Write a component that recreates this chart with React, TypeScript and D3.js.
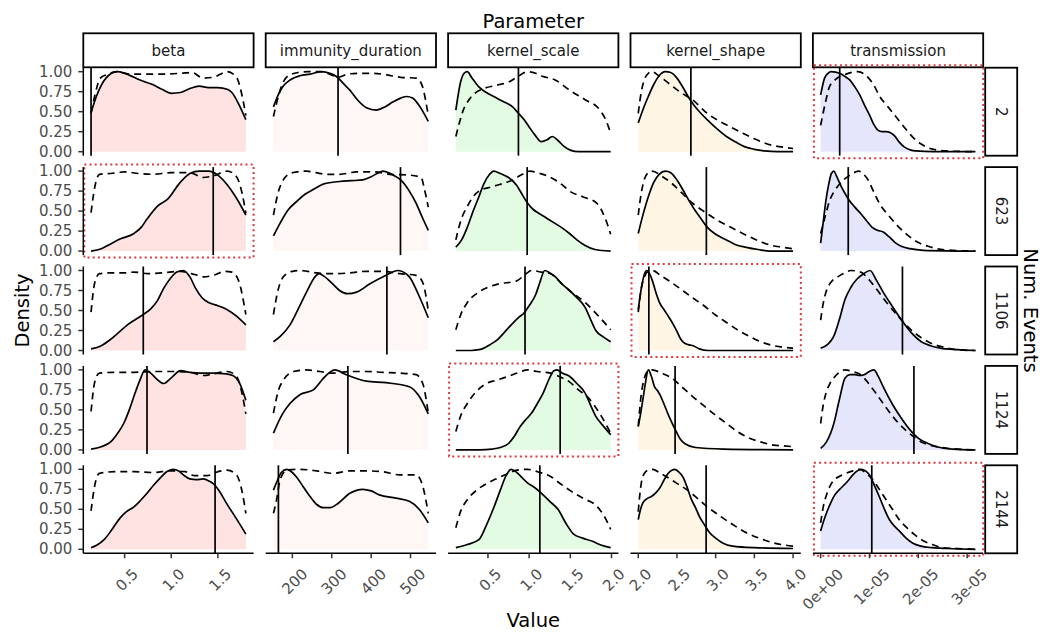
import React, { useRef, useEffect } from "react";
import * as d3 from "d3";

type Pt = [number, number];

const params = ["beta", "immunity_duration", "kernel_scale", "kernel_shape", "transmission"];
const events = ["2", "623", "1106", "1124", "2144"];

// beta: posterior (solid) and prior (dashed), each scaled to a max of 1
const beta_2_post: Pt[] = [[0.14,0.49],[0.2,0.70],[0.3,0.92],[0.42,1.0],[0.5,0.98],[0.6,0.93],[0.7,0.88],[0.8,0.84],[0.9,0.78],[1.0,0.73],[1.1,0.74],[1.2,0.79],[1.3,0.82],[1.4,0.80],[1.5,0.80],[1.6,0.78],[1.65,0.74],[1.73,0.58],[1.8,0.40]];
const beta_2_prior: Pt[] = [[0.14,0.48],[0.18,0.70],[0.24,0.92],[0.3,0.96],[0.42,1.0],[0.55,0.97],[0.7,0.97],[0.9,0.97],[1.1,0.98],[1.22,0.99],[1.34,0.92],[1.45,0.93],[1.6,1.0],[1.7,0.93],[1.75,0.75],[1.8,0.45]];
const beta_623_post: Pt[] = [[0.14,0.0],[0.25,0.03],[0.35,0.09],[0.45,0.15],[0.6,0.22],[0.68,0.30],[0.74,0.40],[0.85,0.56],[0.97,0.66],[1.09,0.85],[1.2,0.97],[1.3,1.0],[1.4,1.0],[1.5,0.95],[1.6,0.83],[1.7,0.66],[1.8,0.45]];
const beta_623_prior: Pt[] = [[0.14,0.48],[0.18,0.80],[0.23,0.96],[0.35,0.97],[0.5,0.99],[0.65,0.97],[0.8,0.96],[1.0,0.98],[1.2,0.98],[1.34,0.92],[1.45,0.94],[1.6,1.0],[1.7,0.93],[1.76,0.72],[1.8,0.47]];
const beta_1106_post: Pt[] = [[0.14,0.02],[0.25,0.06],[0.35,0.14],[0.45,0.24],[0.53,0.32],[0.62,0.39],[0.7,0.45],[0.78,0.52],[0.85,0.62],[0.92,0.78],[0.99,0.90],[1.06,0.98],[1.13,1.0],[1.2,0.92],[1.26,0.78],[1.33,0.66],[1.4,0.60],[1.5,0.56],[1.6,0.51],[1.7,0.43],[1.8,0.32]];
const beta_1106_prior: Pt[] = [[0.14,0.48],[0.18,0.85],[0.23,0.96],[0.35,0.97],[0.5,0.97],[0.6,0.98],[0.75,0.96],[0.9,0.97],[1.1,0.99],[1.25,0.95],[1.35,0.92],[1.45,0.94],[1.58,0.99],[1.65,0.98],[1.72,0.88],[1.8,0.45]];
const beta_1124_post: Pt[] = [[0.14,0.01],[0.25,0.04],[0.35,0.10],[0.42,0.2],[0.49,0.33],[0.55,0.5],[0.6,0.67],[0.66,0.86],[0.72,1.0],[0.78,0.96],[0.85,0.88],[0.92,0.83],[1.0,0.90],[1.1,0.99],[1.2,0.97],[1.31,0.96],[1.45,0.96],[1.59,0.95],[1.66,0.93],[1.73,0.84],[1.8,0.62]];
const beta_1124_prior: Pt[] = [[0.14,0.48],[0.18,0.85],[0.23,0.96],[0.4,0.97],[0.6,0.97],[0.8,0.98],[1.0,0.98],[1.2,0.97],[1.35,0.93],[1.45,0.95],[1.6,0.98],[1.7,0.92],[1.76,0.7],[1.8,0.45]];
const beta_2144_post: Pt[] = [[0.14,0.02],[0.2,0.05],[0.28,0.12],[0.36,0.24],[0.45,0.39],[0.52,0.47],[0.6,0.53],[0.67,0.61],[0.74,0.70],[0.81,0.80],[0.88,0.89],[0.95,0.97],[1.02,1.0],[1.08,0.98],[1.13,0.93],[1.2,0.88],[1.27,0.87],[1.34,0.88],[1.41,0.85],[1.45,0.82],[1.52,0.72],[1.59,0.58],[1.7,0.38],[1.8,0.19]];
const beta_2144_prior: Pt[] = [[0.14,0.48],[0.18,0.80],[0.23,0.95],[0.4,0.97],[0.6,0.97],[0.8,0.96],[1.0,0.98],[1.15,0.97],[1.25,0.92],[1.38,0.92],[1.5,0.97],[1.6,0.99],[1.7,0.93],[1.76,0.72],[1.8,0.45]];

// immunity_duration
const imm_2_post: Pt[] = [[152,0.56],[165,0.72],[177,0.82],[195,0.90],[219,0.95],[245,0.97],[275,1.0],[295,0.98],[312,0.94],[330,0.85],[346,0.77],[365,0.65],[388,0.55],[413,0.52],[435,0.56],[455,0.62],[475,0.67],[490,0.69],[505,0.67],[520,0.59],[545,0.38]];
const imm_2_prior: Pt[] = [[152,0.44],[165,0.70],[175,0.85],[190,0.95],[215,0.99],[240,1.0],[270,1.0],[295,0.97],[315,0.93],[340,0.97],[370,0.98],[405,0.98],[440,0.96],[475,0.93],[515,0.92],[530,0.82],[538,0.65],[545,0.45]];
const imm_623_post: Pt[] = [[152,0.19],[170,0.36],[190,0.52],[211,0.62],[232,0.71],[253,0.77],[280,0.84],[320,0.87],[350,0.88],[379,0.89],[400,0.93],[415,0.97],[430,1.0],[445,0.98],[460,0.94],[475,0.89],[497,0.75],[514,0.60],[530,0.42],[545,0.26]];
const imm_623_prior: Pt[] = [[152,0.45],[165,0.75],[177,0.89],[194,0.97],[211,0.99],[236,1.0],[260,0.98],[287,0.96],[320,0.96],[363,0.99],[410,0.99],[447,0.96],[497,0.95],[527,0.92],[535,0.78],[545,0.55]];
const imm_1106_post: Pt[] = [[152,0.11],[170,0.18],[194,0.32],[215,0.52],[236,0.73],[259,0.93],[268,0.96],[280,0.93],[303,0.83],[320,0.75],[340,0.71],[363,0.73],[396,0.83],[438,0.94],[468,1.0],[497,0.92],[520,0.70],[545,0.41]];
const imm_1106_prior: Pt[] = [[152,0.45],[165,0.78],[177,0.92],[200,0.99],[219,1.0],[262,0.97],[303,0.96],[346,0.97],[388,0.99],[430,0.99],[472,0.96],[514,0.94],[531,0.85],[545,0.50]];
const imm_1124_post: Pt[] = [[152,0.21],[175,0.45],[194,0.58],[219,0.69],[253,0.75],[278,0.89],[295,0.97],[308,1.0],[337,0.94],[388,0.86],[438,0.84],[497,0.79],[522,0.67],[545,0.45]];
const imm_1124_prior: Pt[] = [[152,0.46],[165,0.75],[177,0.87],[203,0.98],[236,1.0],[270,0.98],[303,0.96],[346,0.98],[388,0.98],[430,0.97],[472,0.96],[514,0.94],[531,0.83],[545,0.46]];
const imm_2144_post: Pt[] = [[152,0.74],[162,0.86],[172,0.96],[186,1.0],[200,0.96],[211,0.90],[228,0.78],[245,0.66],[262,0.56],[278,0.52],[295,0.52],[315,0.57],[346,0.70],[379,0.75],[400,0.73],[421,0.68],[463,0.64],[497,0.60],[522,0.50],[545,0.33]];
const imm_2144_prior: Pt[] = [[152,0.45],[160,0.62],[169,0.87],[186,0.99],[219,1.0],[262,0.98],[303,0.95],[346,0.98],[388,0.98],[430,0.97],[472,0.93],[514,0.93],[531,0.79],[545,0.45]];

// kernel_scale
const ks_2_post: Pt[] = [[0.11,0.52],[0.17,0.88],[0.21,0.98],[0.25,1.0],[0.3,0.93],[0.39,0.81],[0.48,0.74],[0.57,0.69],[0.68,0.63],[0.8,0.56],[0.87,0.48],[0.94,0.40],[1.0,0.31],[1.07,0.21],[1.15,0.125],[1.22,0.15],[1.28,0.19],[1.35,0.14],[1.42,0.07],[1.5,0.02],[1.6,0.0],[1.99,0.0]];
const ks_2_prior: Pt[] = [[0.11,0.19],[0.15,0.35],[0.2,0.52],[0.27,0.65],[0.34,0.73],[0.45,0.79],[0.6,0.83],[0.75,0.87],[0.85,0.93],[0.98,1.0],[1.08,0.98],[1.17,0.94],[1.31,0.90],[1.49,0.77],[1.68,0.65],[1.86,0.52],[1.93,0.40],[1.99,0.23]];
const ks_623_post: Pt[] = [[0.11,0.05],[0.18,0.14],[0.25,0.30],[0.32,0.50],[0.39,0.68],[0.45,0.84],[0.52,0.96],[0.57,1.0],[0.65,0.97],[0.75,0.92],[0.85,0.82],[0.92,0.70],[0.98,0.60],[1.05,0.52],[1.12,0.47],[1.2,0.42],[1.31,0.35],[1.4,0.29],[1.49,0.22],[1.58,0.14],[1.68,0.07],[1.8,0.02],[1.99,0.0]];
const ks_623_prior: Pt[] = [[0.11,0.14],[0.17,0.38],[0.25,0.56],[0.32,0.68],[0.39,0.75],[0.57,0.81],[0.8,0.89],[0.92,0.96],[1.01,1.0],[1.1,0.98],[1.26,0.92],[1.4,0.83],[1.49,0.75],[1.65,0.68],[1.82,0.60],[1.92,0.42],[1.99,0.21]];
const ks_1106_post: Pt[] = [[0.11,0.0],[0.3,0.0],[0.39,0.01],[0.45,0.03],[0.52,0.07],[0.62,0.14],[0.71,0.24],[0.8,0.34],[0.88,0.42],[0.94,0.47],[1.0,0.56],[1.08,0.70],[1.13,0.85],[1.19,1.0],[1.25,0.97],[1.31,0.93],[1.4,0.83],[1.49,0.75],[1.58,0.66],[1.68,0.54],[1.75,0.38],[1.81,0.25],[1.9,0.17],[1.99,0.11]];
const ks_1106_prior: Pt[] = [[0.11,0.26],[0.17,0.45],[0.25,0.60],[0.39,0.73],[0.5,0.79],[0.62,0.83],[0.85,0.87],[0.95,0.95],[1.03,1.0],[1.15,0.98],[1.26,0.96],[1.38,0.85],[1.49,0.75],[1.68,0.60],[1.86,0.41],[1.99,0.26]];
const ks_1124_post: Pt[] = [[0.11,0.0],[0.4,0.0],[0.55,0.01],[0.65,0.03],[0.75,0.08],[0.82,0.17],[0.89,0.29],[0.96,0.38],[1.03,0.46],[1.1,0.58],[1.17,0.71],[1.24,0.88],[1.3,0.99],[1.34,1.0],[1.4,0.96],[1.49,0.92],[1.58,0.83],[1.68,0.71],[1.75,0.55],[1.81,0.42],[1.9,0.30],[1.99,0.19]];
const ks_1124_prior: Pt[] = [[0.11,0.23],[0.17,0.43],[0.25,0.58],[0.35,0.72],[0.48,0.83],[0.6,0.87],[0.75,0.92],[0.88,0.97],[0.98,1.0],[1.1,0.98],[1.26,0.96],[1.38,0.91],[1.49,0.85],[1.6,0.75],[1.72,0.65],[1.86,0.45],[1.99,0.21]];
const ks_2144_post: Pt[] = [[0.11,0.02],[0.25,0.06],[0.39,0.12],[0.48,0.30],[0.57,0.52],[0.65,0.74],[0.72,0.92],[0.78,1.0],[0.85,0.96],[0.92,0.89],[0.98,0.83],[1.07,0.77],[1.15,0.70],[1.25,0.60],[1.35,0.50],[1.45,0.32],[1.54,0.19],[1.65,0.14],[1.77,0.10],[1.88,0.05],[1.99,0.02]];
const ks_2144_prior: Pt[] = [[0.11,0.27],[0.17,0.48],[0.25,0.62],[0.39,0.76],[0.5,0.83],[0.62,0.89],[0.75,0.95],[0.85,0.99],[0.98,1.0],[1.1,0.97],[1.26,0.91],[1.38,0.82],[1.49,0.74],[1.65,0.64],[1.82,0.54],[1.92,0.40],[1.99,0.25]];

// kernel_shape
const kh_2_post: Pt[] = [[2.0,0.36],[2.07,0.55],[2.13,0.69],[2.2,0.84],[2.27,0.95],[2.35,1.0],[2.42,0.99],[2.5,0.92],[2.58,0.80],[2.65,0.68],[2.72,0.58],[2.8,0.49],[2.89,0.40],[3.0,0.30],[3.14,0.19],[3.26,0.12],[3.38,0.06],[3.5,0.03],[3.63,0.01],[3.8,0.0],[4.0,0.0]];
const kh_2_prior: Pt[] = [[2.0,0.48],[2.04,0.75],[2.08,0.90],[2.13,0.98],[2.18,1.0],[2.25,0.96],[2.4,0.85],[2.55,0.74],[2.7,0.65],[2.89,0.48],[3.05,0.38],[3.19,0.31],[3.35,0.23],[3.48,0.17],[3.6,0.12],[3.73,0.08],[3.85,0.06],[4.0,0.04]];
const kh_623_post: Pt[] = [[2.0,0.22],[2.06,0.45],[2.13,0.68],[2.2,0.86],[2.27,0.96],[2.35,1.0],[2.42,0.98],[2.5,0.89],[2.58,0.76],[2.65,0.64],[2.72,0.53],[2.8,0.42],[2.89,0.30],[3.0,0.21],[3.14,0.14],[3.26,0.08],[3.38,0.05],[3.55,0.02],[3.7,0.0],[4.0,0.0]];
const kh_623_prior: Pt[] = [[2.0,0.45],[2.04,0.73],[2.08,0.90],[2.13,0.98],[2.18,1.0],[2.3,0.94],[2.43,0.85],[2.56,0.73],[2.7,0.60],[2.89,0.47],[3.05,0.37],[3.19,0.30],[3.35,0.22],[3.48,0.16],[3.6,0.11],[3.73,0.07],[3.85,0.05],[4.0,0.03]];
const kh_1106_post: Pt[] = [[2.0,0.51],[2.03,0.72],[2.06,0.88],[2.09,0.98],[2.11,1.0],[2.14,0.97],[2.18,0.88],[2.23,0.72],[2.28,0.59],[2.34,0.50],[2.4,0.41],[2.45,0.33],[2.5,0.24],[2.55,0.14],[2.6,0.09],[2.66,0.07],[2.71,0.06],[2.79,0.02],[2.9,0.0],[4.0,0.0]];
const kh_1106_prior: Pt[] = [[2.0,0.48],[2.04,0.78],[2.08,0.92],[2.13,0.99],[2.18,1.0],[2.3,0.93],[2.43,0.85],[2.56,0.76],[2.7,0.66],[2.85,0.56],[2.99,0.45],[3.14,0.35],[3.28,0.26],[3.43,0.18],[3.58,0.11],[3.75,0.06],[3.88,0.04],[4.0,0.03]];
const kh_1124_post: Pt[] = [[2.0,0.29],[2.03,0.45],[2.06,0.63],[2.09,0.82],[2.13,1.0],[2.17,0.92],[2.21,0.79],[2.25,0.74],[2.28,0.69],[2.33,0.58],[2.38,0.46],[2.43,0.35],[2.48,0.25],[2.54,0.14],[2.6,0.08],[2.74,0.03],[3.1,0.01],[4.0,0.0]];
const kh_1124_prior: Pt[] = [[2.0,0.30],[2.04,0.70],[2.08,0.90],[2.13,0.99],[2.18,1.0],[2.3,0.96],[2.43,0.90],[2.56,0.79],[2.7,0.67],[2.85,0.55],[2.99,0.44],[3.14,0.33],[3.28,0.23],[3.43,0.15],[3.58,0.10],[3.75,0.06],[3.88,0.05],[4.0,0.04]];
const kh_2144_post: Pt[] = [[2.0,0.37],[2.03,0.50],[2.06,0.58],[2.11,0.63],[2.17,0.66],[2.22,0.70],[2.28,0.77],[2.33,0.86],[2.38,0.94],[2.44,0.99],[2.47,1.0],[2.52,0.97],[2.58,0.90],[2.63,0.78],[2.68,0.64],[2.74,0.52],[2.79,0.41],[2.86,0.30],[2.92,0.21],[3.0,0.14],[3.09,0.08],[3.22,0.04],[3.5,0.02],[4.0,0.01]];
const kh_2144_prior: Pt[] = [[2.0,0.47],[2.02,0.68],[2.04,0.83],[2.08,0.95],[2.13,0.99],[2.19,1.0],[2.27,0.96],[2.36,0.91],[2.49,0.83],[2.62,0.75],[2.75,0.65],[2.88,0.54],[3.05,0.42],[3.22,0.31],[3.39,0.21],[3.56,0.14],[3.75,0.08],[4.0,0.04]];

// transmission
const tr_2_post: Pt[] = [[0,0.71],[0.08e-5,0.92],[0.15e-5,0.98],[0.22e-5,1.0],[0.39e-5,0.98],[0.5e-5,0.94],[0.59e-5,0.90],[0.7e-5,0.81],[0.8e-5,0.71],[0.9e-5,0.58],[1.0e-5,0.46],[1.08e-5,0.35],[1.17e-5,0.27],[1.26e-5,0.25],[1.34e-5,0.25],[1.42e-5,0.24],[1.51e-5,0.20],[1.61e-5,0.12],[1.71e-5,0.06],[1.85e-5,0.02],[1.95e-5,0.01],[2.3e-5,0.0],[3.17e-5,0.0]];
const tr_2_prior: Pt[] = [[0,0.33],[0.1e-5,0.62],[0.18e-5,0.81],[0.3e-5,0.90],[0.52e-5,0.97],[0.76e-5,1.0],[0.97e-5,0.93],[1.1e-5,0.82],[1.2e-5,0.70],[1.38e-5,0.56],[1.55e-5,0.43],[1.72e-5,0.30],[1.89e-5,0.18],[2.05e-5,0.10],[2.2e-5,0.05],[2.4e-5,0.02],[2.56e-5,0.01],[3.17e-5,0.0]];
const tr_623_post: Pt[] = [[0,0.10],[0.05e-5,0.35],[0.11e-5,0.64],[0.17e-5,0.85],[0.22e-5,0.97],[0.27e-5,1.0],[0.33e-5,0.93],[0.42e-5,0.81],[0.5e-5,0.72],[0.58e-5,0.64],[0.7e-5,0.55],[0.82e-5,0.47],[0.94e-5,0.38],[1.05e-5,0.30],[1.16e-5,0.26],[1.28e-5,0.24],[1.4e-5,0.18],[1.52e-5,0.11],[1.65e-5,0.06],[1.83e-5,0.03],[2.1e-5,0.01],[3.17e-5,0.0]];
const tr_623_prior: Pt[] = [[0,0.22],[0.1e-5,0.45],[0.19e-5,0.64],[0.27e-5,0.74],[0.35e-5,0.81],[0.47e-5,0.89],[0.58e-5,0.94],[0.68e-5,0.98],[0.78e-5,1.0],[0.88e-5,0.96],[0.97e-5,0.89],[1.08e-5,0.75],[1.2e-5,0.60],[1.4e-5,0.44],[1.6e-5,0.30],[1.8e-5,0.19],[1.99e-5,0.11],[2.2e-5,0.06],[2.38e-5,0.03],[2.7e-5,0.01],[3.17e-5,0.0]];
const tr_1106_post: Pt[] = [[0,0.03],[0.15e-5,0.08],[0.27e-5,0.18],[0.38e-5,0.38],[0.5e-5,0.64],[0.62e-5,0.79],[0.74e-5,0.89],[0.88e-5,0.96],[1.01e-5,1.0],[1.14e-5,0.88],[1.28e-5,0.73],[1.47e-5,0.55],[1.67e-5,0.37],[1.86e-5,0.22],[2.06e-5,0.11],[2.25e-5,0.06],[2.45e-5,0.03],[2.8e-5,0.01],[3.17e-5,0.0]];
const tr_1106_prior: Pt[] = [[0,0.38],[0.05e-5,0.58],[0.11e-5,0.73],[0.22e-5,0.86],[0.35e-5,0.92],[0.5e-5,0.97],[0.62e-5,1.0],[0.82e-5,0.98],[0.97e-5,0.90],[1.13e-5,0.78],[1.35e-5,0.60],[1.6e-5,0.42],[1.83e-5,0.27],[2.06e-5,0.16],[2.3e-5,0.08],[2.53e-5,0.04],[2.8e-5,0.01],[3.17e-5,0.0]];
const tr_1124_post: Pt[] = [[0,0.02],[0.12e-5,0.10],[0.27e-5,0.33],[0.38e-5,0.62],[0.5e-5,0.90],[0.6e-5,0.94],[0.7e-5,0.94],[0.8e-5,0.93],[0.89e-5,0.94],[1.0e-5,0.98],[1.09e-5,1.0],[1.18e-5,0.92],[1.28e-5,0.79],[1.47e-5,0.57],[1.67e-5,0.38],[1.83e-5,0.25],[1.99e-5,0.15],[2.2e-5,0.08],[2.38e-5,0.04],[2.7e-5,0.01],[3.17e-5,0.0]];
const tr_1124_prior: Pt[] = [[0,0.33],[0.05e-5,0.55],[0.11e-5,0.71],[0.19e-5,0.83],[0.27e-5,0.90],[0.38e-5,0.97],[0.5e-5,1.0],[0.65e-5,0.98],[0.82e-5,0.94],[0.97e-5,0.84],[1.13e-5,0.71],[1.35e-5,0.52],[1.6e-5,0.33],[1.83e-5,0.20],[2.06e-5,0.10],[2.3e-5,0.05],[2.6e-5,0.02],[3.17e-5,0.0]];
const tr_2144_post: Pt[] = [[0,0.23],[0.07e-5,0.37],[0.15e-5,0.50],[0.22e-5,0.60],[0.29e-5,0.68],[0.39e-5,0.75],[0.49e-5,0.81],[0.58e-5,0.87],[0.66e-5,0.93],[0.75e-5,0.98],[0.83e-5,1.0],[0.92e-5,0.98],[1.0e-5,0.93],[1.1e-5,0.80],[1.2e-5,0.66],[1.3e-5,0.51],[1.41e-5,0.37],[1.51e-5,0.29],[1.61e-5,0.23],[1.75e-5,0.14],[1.88e-5,0.08],[2.05e-5,0.04],[2.29e-5,0.02],[2.6e-5,0.01],[3.17e-5,0.0]];
const tr_2144_prior: Pt[] = [[0,0.33],[0.06e-5,0.55],[0.12e-5,0.68],[0.25e-5,0.85],[0.38e-5,0.91],[0.52e-5,0.95],[0.66e-5,0.98],[0.8e-5,1.0],[0.93e-5,0.95],[1.07e-5,0.87],[1.2e-5,0.75],[1.34e-5,0.62],[1.47e-5,0.50],[1.61e-5,0.37],[1.78e-5,0.26],[1.95e-5,0.17],[2.12e-5,0.10],[2.29e-5,0.06],[2.5e-5,0.02],[2.8e-5,0.01],[3.17e-5,0.0]];

// true parameter values (vertical lines), per Num. Events row
const betaTruth = [0.14, 1.45, 0.70, 0.74, 1.47];
const immTruth = [316, 474.5, 440, 341, 164.6];
const ksTruth = [0.87, 0.976, 0.95, 1.377, 1.13];
const khTruth = [2.68, 2.88, 2.137, 2.476, 2.877];
const trTruth = [0.39e-5, 0.565e-5, 1.675e-5, 1.91e-5, 1.047e-5];

// x tick values and labels per parameter
const betaTicks = [0.5, 1.0, 1.5];
const betaTickLabels = ["0.5", "1.0", "1.5"];
const immTicks = [200, 300, 400, 500];
const immTickLabels = ["200", "300", "400", "500"];
const ksTicks = [0.5, 1.0, 1.5, 2.0];
const ksTickLabels = ["0.5", "1.0", "1.5", "2.0"];
const khTicks = [2.0, 2.5, 3.0, 3.5, 4.0];
const khTickLabels = ["2.0", "2.5", "3.0", "3.5", "4.0"];
const trTicks = [0, 1e-5, 2e-5, 3e-5];
const trTickLabels = ["0e+00", "1e-05", "2e-05", "3e-05"];

const yTicks = [0, 0.25, 0.5, 0.75, 1];
const yTickLabels = ["0.00", "0.25", "0.50", "0.75", "1.00"];

// panels outlined with the red dotted box
const flagged: [string, string][] = [
  ["transmission", "2"],
  ["beta", "623"],
  ["kernel_shape", "1106"],
  ["kernel_scale", "1124"],
  ["transmission", "2144"],
];

const fills = ["#FFE3E3", "#FFF6F6", "#E3FAE3", "#FFF5E5", "#E5E5FC"];

const posterior: Record<string, Pt[][]> = {
  beta: [beta_2_post, beta_623_post, beta_1106_post, beta_1124_post, beta_2144_post],
  immunity_duration: [imm_2_post, imm_623_post, imm_1106_post, imm_1124_post, imm_2144_post],
  kernel_scale: [ks_2_post, ks_623_post, ks_1106_post, ks_1124_post, ks_2144_post],
  kernel_shape: [kh_2_post, kh_623_post, kh_1106_post, kh_1124_post, kh_2144_post],
  transmission: [tr_2_post, tr_623_post, tr_1106_post, tr_1124_post, tr_2144_post],
};
const prior: Record<string, Pt[][]> = {
  beta: [beta_2_prior, beta_623_prior, beta_1106_prior, beta_1124_prior, beta_2144_prior],
  immunity_duration: [imm_2_prior, imm_623_prior, imm_1106_prior, imm_1124_prior, imm_2144_prior],
  kernel_scale: [ks_2_prior, ks_623_prior, ks_1106_prior, ks_1124_prior, ks_2144_prior],
  kernel_shape: [kh_2_prior, kh_623_prior, kh_1106_prior, kh_1124_prior, kh_2144_prior],
  transmission: [tr_2_prior, tr_623_prior, tr_1106_prior, tr_1124_prior, tr_2144_prior],
};
const truth: Record<string, number[]> = {
  beta: betaTruth, immunity_duration: immTruth, kernel_scale: ksTruth, kernel_shape: khTruth, transmission: trTruth,
};
const xTicks: Record<string, number[]> = {
  beta: betaTicks, immunity_duration: immTicks, kernel_scale: ksTicks, kernel_shape: khTicks, transmission: trTicks,
};
const xTickLabels: Record<string, string[]> = {
  beta: betaTickLabels, immunity_duration: immTickLabels, kernel_scale: ksTickLabels, kernel_shape: khTickLabels, transmission: trTickLabels,
};

const W = 1040;
const H = 634;
const panelLeft = 83.3;
const colStep = 182.4;
const panelW = 170.3;
const panelTop = 67.7;
const rowStep = 99.4;
const panelH = 88;
const font = "'DejaVu Sans', Verdana, sans-serif";

export default function App() {
  const svgRef = useRef<SVGSVGElement>(null);

  useEffect(() => {
    const svg = d3.select(svgRef.current);
    svg.selectAll("*").remove();
    svg.append("rect").attr("width", W).attr("height", H).attr("fill", "white");

    const axisY = panelTop + 4 * rowStep + panelH;

    params.forEach((p, c) => {
      const x0 = panelLeft + c * colStep;
      const all = [...posterior[p].flat(), ...prior[p].flat()];
      const [lo, hi] = d3.extent(all, (d) => d[0]) as [number, number];
      const pad = (hi - lo) * 0.05;
      const x = d3.scaleLinear().domain([lo - pad, hi + pad]).range([x0, x0 + panelW]);

      // top strip
      svg.append("rect")
        .attr("x", x0).attr("y", 33.3).attr("width", panelW).attr("height", 34)
        .attr("fill", "white").attr("stroke", "black").attr("stroke-width", 1.8);
      svg.append("text")
        .attr("x", x0 + panelW / 2).attr("y", 50.5)
        .attr("text-anchor", "middle").attr("dominant-baseline", "central")
        .attr("font-family", font).attr("font-size", 15).attr("fill", "#1A1A1A")
        .text(p);

      events.forEach((ev, r) => {
        const y0 = panelTop + r * rowStep;
        const y = d3.scaleLinear().domain([-0.05, 1.05]).range([y0 + panelH, y0]);
        const g = svg.append("g");

        const area = d3.area<Pt>().x((d) => x(d[0])).y0(y(0)).y1((d) => y(d[1])).curve(d3.curveMonotoneX);
        const line = d3.line<Pt>().x((d) => x(d[0])).y((d) => y(d[1])).curve(d3.curveMonotoneX);

        g.append("path").datum(posterior[p][r]).attr("d", area).attr("fill", fills[c]);
        g.append("path").datum(posterior[p][r]).attr("d", line)
          .attr("fill", "none").attr("stroke", "black").attr("stroke-width", 1.7);
        g.append("path").datum(prior[p][r]).attr("d", line)
          .attr("fill", "none").attr("stroke", "black").attr("stroke-width", 1.7)
          .attr("stroke-dasharray", "7,5");

        const tx = x(truth[p][r]);
        g.append("line")
          .attr("x1", tx).attr("x2", tx).attr("y1", y0).attr("y2", y0 + panelH)
          .attr("stroke", "black").attr("stroke-width", 1.7);

        if (flagged.some(([fp, fe]) => fp === p && fe === ev)) {
          g.append("rect")
            .attr("x", x0 + 1).attr("y", y0 - 2.5).attr("width", panelW - 1).attr("height", panelH + 5)
            .attr("fill", "none").attr("stroke", "#E0383B").attr("stroke-width", 2)
            .attr("stroke-dasharray", "2,3.2");
        }

        // y axis only on the first column
        if (c === 0) {
          g.append("line")
            .attr("x1", x0).attr("x2", x0).attr("y1", y0).attr("y2", y0 + panelH)
            .attr("stroke", "black").attr("stroke-width", 1.5);
          yTicks.forEach((t, i) => {
            g.append("line")
              .attr("x1", x0 - 5).attr("x2", x0).attr("y1", y(t)).attr("y2", y(t))
              .attr("stroke", "#333333").attr("stroke-width", 1.5);
            g.append("text")
              .attr("x", x0 - 11).attr("y", y(t))
              .attr("text-anchor", "end").attr("dominant-baseline", "central")
              .attr("font-family", font).attr("font-size", 15).attr("fill", "#4D4D4D")
              .text(yTickLabels[i]);
          });
        }

        // right strip on the last column
        if (c === params.length - 1) {
          const sx = x0 + panelW + 2;
          svg.append("rect")
            .attr("x", sx).attr("y", y0).attr("width", 32).attr("height", panelH)
            .attr("fill", "white").attr("stroke", "black").attr("stroke-width", 1.8);
          svg.append("text")
            .attr("transform", `translate(${sx + 16},${y0 + panelH / 2}) rotate(90)`)
            .attr("text-anchor", "middle").attr("dominant-baseline", "central")
            .attr("font-family", font).attr("font-size", 15).attr("fill", "#1A1A1A")
            .text(ev);
        }
      });

      // x axis under the bottom row
      svg.append("line")
        .attr("x1", x0).attr("x2", x0 + panelW).attr("y1", axisY).attr("y2", axisY)
        .attr("stroke", "black").attr("stroke-width", 1.5);
      xTicks[p].forEach((t, i) => {
        const px = x(t);
        svg.append("line")
          .attr("x1", px).attr("x2", px).attr("y1", axisY).attr("y2", axisY + 5)
          .attr("stroke", "#333333").attr("stroke-width", 1.5);
        const label = svg.append("text")
          .attr("text-anchor", "middle")
          .attr("font-family", font).attr("font-size", 15).attr("fill", "#4D4D4D")
          .text(xTickLabels[p][i]);
        const L = (label.node() as SVGTextElement).getComputedTextLength();
        label.attr("transform", `translate(${px + 5.9},${axisY + 14 + 0.354 * L + 7.8}) rotate(-45)`);
      });
    });

    const midX = panelLeft + (4 * colStep + panelW) / 2;
    const midY = panelTop + (4 * rowStep + panelH) / 2;

    svg.append("text")
      .attr("x", midX).attr("y", 28.3).attr("text-anchor", "middle")
      .attr("font-family", font).attr("font-size", 19.5).attr("fill", "black")
      .text("Parameter");
    svg.append("text")
      .attr("x", midX).attr("y", 627).attr("text-anchor", "middle")
      .attr("font-family", font).attr("font-size", 19.5).attr("fill", "black")
      .text("Value");
    svg.append("text")
      .attr("transform", `translate(22,${midY}) rotate(-90)`)
      .attr("text-anchor", "middle").attr("dominant-baseline", "central")
      .attr("font-family", font).attr("font-size", 19.5).attr("fill", "black")
      .text("Density");
    svg.append("text")
      .attr("transform", `translate(1030,${midY}) rotate(90)`)
      .attr("text-anchor", "middle").attr("dominant-baseline", "central")
      .attr("font-family", font).attr("font-size", 19.5).attr("fill", "black")
      .text("Num. Events");
  }, []);

  return (
    <svg
      ref={svgRef}
      width={W}
      height={H}
      style={{ position: "absolute", left: 0, top: 0, display: "block" }}
    />
  );
}
